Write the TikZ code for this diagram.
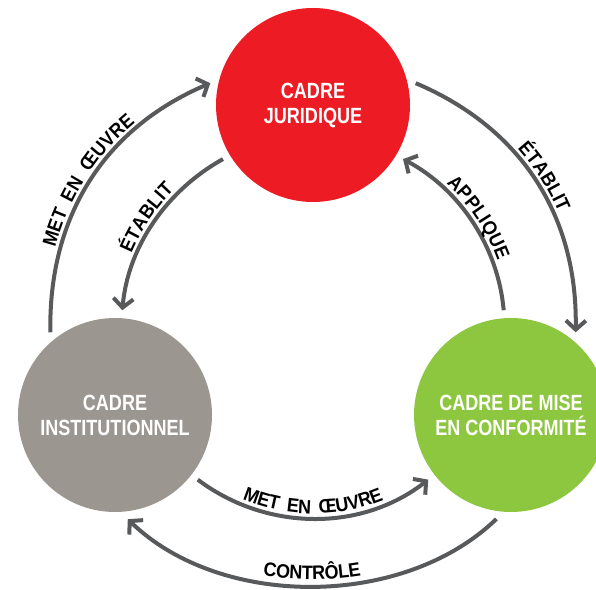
\documentclass[tikz,border=0pt]{standalone}
\usepackage{fontspec}
\setmainfont{Liberation Sans}
\newfontfamily\cerclefont{Liberation Sans}[FakeStretch=0.82]
\newfontfamily\lblfont{Liberation Sans}[FakeStretch=0.92, WordSpace=1.8]
\usetikzlibrary{arrows.meta,decorations.text}

\definecolor{rouge}{RGB}{237,28,36}
\definecolor{taupe}{RGB}{156,150,144}
\definecolor{vert}{RGB}{141,198,63}
\definecolor{ardoise}{RGB}{88,89,91}

\tikzset{
  cadre/.style={shape=circle, minimum size=194pt, inner sep=0pt, outer sep=8pt,
    text=white, align=center, font=\cerclefont\bfseries\fontsize{22}{25}\selectfont},
  fleche/.style={color=ardoise, line width=4pt},
  etiquette/.style={postaction={decorate, decoration={text along path,
    text={|\lblfont\bfseries\fontsize{19.5}{21}\selectfont|#1},
    text align=center}}}
}

\begin{document}
\begin{tikzpicture}[x=1pt, y=1pt, >={Straight Barb[length=9pt,width=20pt]},
    decoration={raise=5pt}]
  \useasboundingbox (0,0) rectangle (596,589);

  \node[cadre, fill=rouge] (juridique) at (313,484) {CADRE\\JURIDIQUE};
  \node[cadre, fill=taupe] (institutionnel) at (115,174) {CADRE\\INSTITUTIONNEL};
  \node[cadre, fill=vert] (conformite) at (511,174) {CADRE DE MISE\\EN CONFORMITÉ};

  %Fleches exterieures
  \draw[fleche, ->, etiquette={MET EN ŒUVRE}] (institutionnel.128) to[out=91, in=203] (juridique.168);
  \draw[fleche, ->, etiquette={ÉTABLIT}] (juridique.12) to[out=-23, in=89] (conformite.52);
  \draw[fleche, <-, decoration={raise=7pt}, etiquette={CONTRÔLE}] (institutionnel.277) to[out=316, in=224, looseness=0.9] (conformite.262);

  %Fleches interieures
  \draw[fleche, <-, etiquette={ÉTABLIT}] (institutionnel.86) to[out=85, in=209, looseness=0.9] (juridique.211);
  \draw[fleche, <-, etiquette={APPLIQUE}] (juridique.329) to[out=332, in=95, looseness=0.9] (conformite.94);
  \draw[fleche, ->, etiquette={MET EN ŒUVRE}] (institutionnel.322) to[out=323, in=218, looseness=0.95] (conformite.218);
\end{tikzpicture}
\end{document}
